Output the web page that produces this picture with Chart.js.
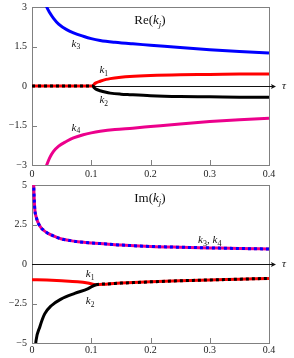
<!DOCTYPE html>
<html><head><meta charset="utf-8">
<script src="https://cdn.jsdelivr.net/npm/chart.js@4"></script>
<style>
html,body{margin:0;padding:0;background:#fff;width:294px;height:358px;overflow:hidden}
canvas{position:absolute;left:0}
#cRe{top:0}
#cIm{top:178px}
</style></head><body>
<canvas id="cRe" width="294" height="178"></canvas>
<canvas id="cIm" width="294" height="180"></canvas>
<script>
// ---------- data ----------
const xTicks = [0, 0.1, 0.2, 0.3, 0.4];
const xTickLabels = ["0", "0.1", "0.2", "0.3", "0.4"];

const reTicks = [-3, -1.5, 0, 1.5, 3];
const reTickLabels = ["\u22123", "\u22121.5", "0", "1.5", "3"];
const imTicks = [-5, -2.5, 0, 2.5, 5];
const imTickLabels = ["\u22125", "\u22122.5", "0", "2.5", "5"];

// Re(k_j)
const tauRe34 = [0.02, 0.0248, 0.03, 0.036, 0.045, 0.0585, 0.07, 0.0865, 0.1, 0.115, 0.14, 0.17, 0.2, 0.25, 0.3, 0.35, 0.4];
const reK3 = [3.3, 3.0, 2.78, 2.58, 2.35, 2.14, 2.02, 1.89, 1.8, 1.73, 1.66, 1.6, 1.55, 1.46, 1.38, 1.31, 1.25];
const reK4 = [-3.3, -3.0, -2.72, -2.49, -2.28, -2.1, -1.97, -1.85, -1.78, -1.72, -1.65, -1.6, -1.54, -1.44, -1.35, -1.28, -1.22];

const tauRe12 = [0, 0.05, 0.103, 0.105, 0.108, 0.115, 0.125, 0.132, 0.15, 0.165, 0.2, 0.25, 0.3, 0.35, 0.4];
const reK1 = [0, 0, 0, 0.07, 0.12, 0.18, 0.25, 0.28, 0.33, 0.36, 0.40, 0.43, 0.44, 0.455, 0.46];
const reK2 = [0, 0, 0, -0.07, -0.12, -0.18, -0.24, -0.27, -0.31, -0.33, -0.37, -0.40, -0.41, -0.425, -0.43];
const reMergeEnd = 0.103;

// Im(k_j)
const tauIm34 = [0.0025, 0.0029, 0.0045, 0.0073, 0.013, 0.02, 0.027, 0.037, 0.05, 0.065, 0.0775, 0.1, 0.125, 0.15, 0.2, 0.25, 0.3, 0.35, 0.4];
const imK34 = [5.6, 5.0, 3.58, 2.95, 2.42, 2.12, 1.94, 1.76, 1.58, 1.48, 1.41, 1.33, 1.27, 1.2, 1.11, 1.06, 1.02, 0.98, 0.95];

const tauImK1 = [0, 0.025, 0.05, 0.077, 0.094, 0.108, 0.128, 0.15, 0.182, 0.2, 0.25, 0.3, 0.35, 0.4];
const imK1 = [-0.99, -1.02, -1.06, -1.12, -1.2, -1.31, -1.26, -1.21, -1.16, -1.13, -1.06, -1.01, -0.96, -0.91];
const tauImK2 = [0.0055, 0.0068, 0.013, 0.0214, 0.0325, 0.049, 0.072, 0.094, 0.108, 0.128, 0.15, 0.182, 0.2, 0.25, 0.3, 0.35, 0.4];
const imK2 = [-5.4, -4.85, -4.0, -3.16, -2.64, -2.22, -1.86, -1.58, -1.31, -1.26, -1.21, -1.16, -1.13, -1.06, -1.01, -0.96, -0.91];
const imMergeStart = 0.108;

// ---------- styling ----------
const RED = '#ff0000', BLUE = '#0000ff', BLACK = '#000000', MAG = '#ec008c';
const SERIF = '"Liberation Serif", "DejaVu Serif", serif';
Chart.defaults.font.family = SERIF;
Chart.defaults.font.size = 10;
Chart.defaults.color = '#222';

const pts = (xs, ys) => xs.map((x, i) => ({x, y: ys[i]}));
const line = (data, color, extra) => Object.assign({
  data, borderColor: color, backgroundColor: color, borderWidth: 3,
  pointRadius: 0, cubicInterpolationMode: 'monotone', fill: false
}, extra || {});

function fontOf(p) { return (p.it ? 'italic ' : '') + p.size + 'px ' + SERIF; }
function drawRich(ctx, parts, cx, cy) {
  let w = 0;
  parts.forEach(p => { ctx.font = fontOf(p); p.w = ctx.measureText(p.t).width; w += p.w; });
  let x = cx - w / 2;
  ctx.textAlign = 'left'; ctx.textBaseline = 'alphabetic'; ctx.fillStyle = '#111';
  parts.forEach(p => { ctx.font = fontOf(p); ctx.fillText(p.t, x, cy + (p.sub ? 2.5 : 0)); x += p.w; });
}
const kLab = (n) => [{t: 'k', it: true, size: 11}, {t: n, size: 7.5, sub: true}];

function framePlugin(yTickVals, labels) {
  return {
    id: 'frame',
    beforeDatasetsDraw(chart) {
      const {ctx, chartArea: a, scales: {x, y}} = chart;
      ctx.save();
      ctx.strokeStyle = '#808080'; ctx.lineWidth = 1;
      ctx.strokeRect(Math.round(a.left) + 0.5, Math.round(a.top) + 0.5, Math.round(a.right - a.left), Math.round(a.bottom - a.top));
      ctx.beginPath();
      yTickVals.forEach(v => {
        const py = Math.round(y.getPixelForValue(v)) + 0.5;
        ctx.moveTo(a.left, py); ctx.lineTo(a.left + 5, py);
      });
      xTicks.forEach(v => {
        const px = Math.round(x.getPixelForValue(v)) + 0.5;
        ctx.moveTo(px, a.bottom); ctx.lineTo(px, a.bottom - 5);
      });
      ctx.stroke();
      // zero axis with arrow
      const y0 = Math.round(y.getPixelForValue(0)) + 0.5;
      ctx.strokeStyle = '#111';
      ctx.beginPath(); ctx.moveTo(a.left, y0); ctx.lineTo(a.right + 4, y0); ctx.stroke();
      ctx.fillStyle = '#111';
      ctx.beginPath(); ctx.moveTo(a.right + 7, y0); ctx.lineTo(a.right + 2, y0 - 2.5); ctx.lineTo(a.right + 3, y0); ctx.lineTo(a.right + 2, y0 + 2.5); ctx.closePath(); ctx.fill();
      ctx.font = 'italic 11px ' + SERIF; ctx.textAlign = 'left'; ctx.textBaseline = 'middle';
      ctx.fillText('\u03c4', a.right + 13, y0);
      ctx.restore();
    },
    afterDatasetsDraw(chart) {
      const {ctx, scales: {x, y}} = chart;
      ctx.save();
      labels.forEach(l => drawRich(ctx, l.parts, x.getPixelForValue(l.x), y.getPixelForValue(l.y)));
      ctx.restore();
    }
  };
}

function makeChart(id, datasets, yMin, yMax, yTickVals, yTickLabels, xAxisH, xPad, labels) {
  return new Chart(document.getElementById(id), {
    type: 'line',
    data: {datasets},
    options: {
      responsive: false, animation: false, devicePixelRatio: 1,
      layout: {padding: {top: 7, right: 25, left: 0, bottom: 0}},
      plugins: {legend: {display: false}, tooltip: {enabled: false}},
      scales: {
        x: {
          type: 'linear', min: 0, max: 0.4,
          grid: {display: false, drawTicks: false}, border: {display: false},
          afterBuildTicks: s => { s.ticks = xTicks.map(v => ({value: v})); },
          afterFit: s => { s.height = xAxisH; s.paddingLeft = 0; s.paddingRight = 0; },
          ticks: {padding: xPad, maxRotation: 0, autoSkip: false,
            callback: v => xTickLabels[xTicks.indexOf(v)]}
        },
        y: {
          type: 'linear', min: yMin, max: yMax,
          grid: {display: false, drawTicks: false}, border: {display: false},
          afterBuildTicks: s => { s.ticks = yTickVals.map(v => ({value: v})); },
          afterFit: s => { s.width = 32; s.paddingTop = 0; s.paddingBottom = 0; },
          ticks: {padding: 5, autoSkip: false,
            callback: v => yTickLabels[yTickVals.indexOf(v)]}
        }
      }
    },
    plugins: [framePlugin(yTickVals, labels)]
  });
}

// Re chart
makeChart('cRe', [
  line(pts(tauRe12, reK2), BLACK, {segment: {borderDash: c => c.p1.parsed.x <= reMergeEnd + 1e-9 ? [3, 3] : undefined}}),
  line(pts(tauRe12, reK1), RED),
  line(pts(tauRe34, reK3), BLUE),
  line(pts(tauRe34, reK4), MAG)
], -3, 3, reTicks, reTickLabels, 13, 3, [
  {x: 0.199, y: 2.35, parts: [{t: 'Re(', size: 13}, {t: 'k', it: true, size: 13}, {t: 'j', it: true, size: 9, sub: true}, {t: ')', size: 13}]},
  {x: 0.074, y: 1.5, parts: kLab('3')},
  {x: 0.121, y: 0.48, parts: kLab('1')},
  {x: 0.121, y: -0.66, parts: kLab('2')},
  {x: 0.074, y: -1.7, parts: kLab('4')}
]);

// Im chart
makeChart('cIm', [
  line(pts(tauIm34, imK34), BLUE, {borderDash: [3, 3]}),
  line(pts(tauIm34, imK34), MAG),
  line(pts(tauImK2, imK2), BLACK, {segment: {borderDash: c => c.p0.parsed.x >= imMergeStart - 1e-9 ? [3, 3] : undefined}}),
  line(pts(tauImK1, imK1), RED)
], -5, 5, imTicks, imTickLabels, 15, 1, [
  {x: 0.199, y: 3.9, parts: [{t: 'Im(', size: 13}, {t: 'k', it: true, size: 13}, {t: 'j', it: true, size: 9, sub: true}, {t: ')', size: 13}]},
  {x: 0.098, y: -0.85, parts: kLab('1')},
  {x: 0.098, y: -2.55, parts: kLab('2')},
  {x: 0.3, y: 1.3, parts: [{t: 'k', it: true, size: 11}, {t: '3', size: 8, sub: true}, {t: ', ', size: 11}, {t: 'k', it: true, size: 11}, {t: '4', size: 8, sub: true}]}
]);
</script>
</body></html>
